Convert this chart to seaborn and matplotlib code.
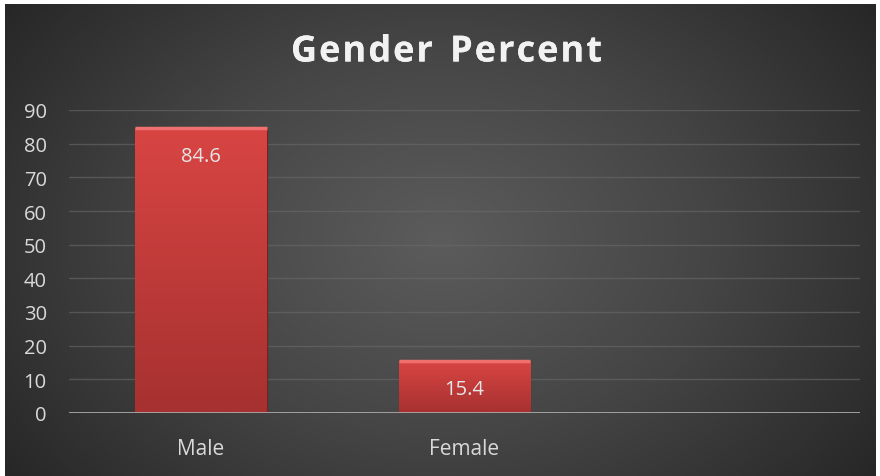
import numpy as np
import pandas as pd
import matplotlib
matplotlib.use("Agg")
import matplotlib.pyplot as plt
import matplotlib.patheffects as pe
import seaborn as sns
from matplotlib.colors import LinearSegmentedColormap

genders = ["Male", "Female"]
percents = [84.6, 15.4]
y_ticks = [0, 10, 20, 30, 40, 50, 60, 70, 80, 90]
title = "Gender Percent"

sns.set_theme(style="dark")
plt.rcParams["font.family"] = ["Open Sans", "DejaVu Sans"]

fig = plt.figure(figsize=(8.8, 4.77), dpi=100, facecolor="white")

# radial grey backdrop like the office chart style
bg = fig.add_axes([5 / 880, 0, 870 / 880, 472 / 477])
yy, xx = np.mgrid[-1:1:300j, -1:1:500j]
r = np.sqrt(xx ** 2 + (yy * 0.75) ** 2)
bg_cmap = LinearSegmentedColormap.from_list("bg", ["#5c5c5c", "#454545", "#272727"])
bg.imshow(r, cmap=bg_cmap, aspect="auto", extent=[0, 1, 0, 1], vmin=0, vmax=1.25)
bg.set_axis_off()

ax = fig.add_axes([69 / 880, 1 - 414 / 477, 791 / 880, (414 - 111) / 477])
ax.patch.set_alpha(0)

pdf = pd.DataFrame({"gender": genders, "percent": percents})
sns.barplot(data=pdf, x="gender", y="percent", ax=ax, color="#c83c3a",
            width=0.5, saturation=1, zorder=3)

# vertical gradient on each bar
bar_cmap = LinearSegmentedColormap.from_list("bar", ["#a63130", "#d84543"])
grad = np.linspace(0, 1, 256).reshape(-1, 1)
for p in ax.patches:
    x0, y0 = p.get_x(), p.get_y()
    w, h = p.get_width(), p.get_height()
    im = ax.imshow(grad, cmap=bar_cmap, origin="lower", aspect="auto",
                   extent=[x0, x0 + w, y0, y0 + h], zorder=4)
    im.set_clip_path(p)
    p.set_edgecolor("#7a2020")
    p.set_linewidth(0.8)
    ax.plot([x0, x0 + w], [y0 + h, y0 + h], color="#f07070", lw=2.5, zorder=5,
            solid_capstyle="butt")

for i, v in enumerate(percents):
    ax.annotate(f"{v}", (i, v), xytext=(0, -13), textcoords="offset points",
                ha="center", va="top", color="#e6e6e6", fontsize=14.5, zorder=6)

ax.set_xlim(-0.5, 2.5)
ax.set_ylim(0, 90)
ax.set_yticks(y_ticks)
ax.yaxis.grid(True, color="#6a6a6a", linewidth=1, alpha=0.6, zorder=0)
ax.xaxis.grid(False)
ax.axhline(0, color="#a9a9a9", linewidth=2, zorder=7)
for s in ax.spines.values():
    s.set_visible(False)
ax.set_xlabel("")
ax.set_ylabel("")
ax.tick_params(axis="y", colors="#d9d9d9", labelsize=14.5, length=0, pad=16)
ax.tick_params(axis="x", colors="#d9d9d9", labelsize=15, length=0, pad=18)

# title with letter spacing, drawn char by char
renderer = fig.canvas.get_renderer()
tkw = dict(color="#f2f2f2", fontsize=26, fontweight="bold", va="center", ha="left",
           path_effects=[pe.withSimplePatchShadow(offset=(1, -1.5), alpha=0.5), pe.Normal()])
spacing = 2.0
widths = []
for ch in title:
    t = fig.text(0, 0, ch if ch != " " else "n", **tkw)
    widths.append(t.get_window_extent(renderer).width * (0.55 if ch == " " else 1))
    t.remove()
total = sum(widths) + spacing * (len(title) - 1)
xpos = 446.5 - total / 2
for ch, w in zip(title, widths):
    if ch != " ":
        fig.text(xpos / 880, 1 - 53.5 / 477, ch, **tkw)
    xpos += w + spacing

fig.savefig("out.png", dpi=100, facecolor="white")
